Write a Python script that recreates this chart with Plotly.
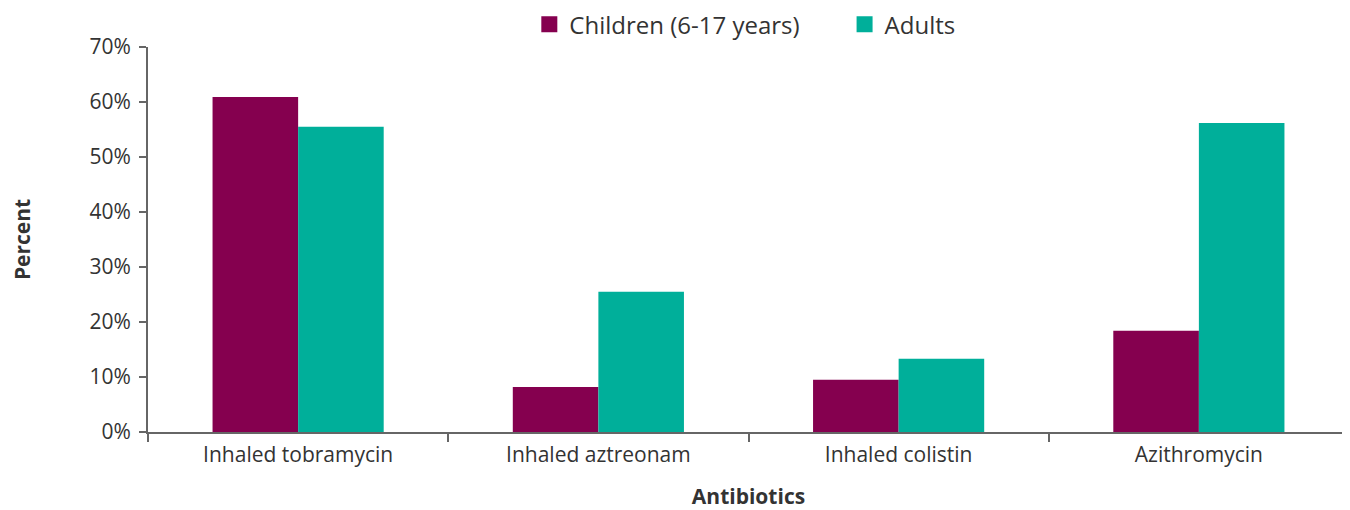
import plotly.graph_objects as go

antibiotics = ['Inhaled tobramycin', 'Inhaled aztreonam', 'Inhaled colistin', 'Azithromycin']
children = [60.9, 8.2, 9.5, 18.4]
adults = [55.5, 25.5, 13.3, 56.2]

series = [('Children (6-17 years)', children, '#85004F', 'legend'),
          ('Adults', adults, '#00AF9A', 'legend2')]

fig = go.Figure()
for name, vals, color, lg in series:
    fig.add_trace(go.Bar(x=antibiotics, y=vals, name=name, showlegend=False,
                         marker=dict(color=color, line=dict(width=0))))
# legend-only entries with bigger square swatches, one legend box each
for name, vals, color, lg in series:
    fig.add_trace(go.Scatter(x=[None], y=[None], mode='markers', name=name, legend=lg,
                             marker=dict(symbol='square', size=20, color=color)))

legend_style = dict(orientation='h', xanchor='left', y=1.058, yanchor='middle',
                    font=dict(size=24), bgcolor='rgba(0,0,0,0)')

# page body has an 8px margin, so the figure is a bit smaller than the window
fig.update_layout(
    width=1342, height=502,
    barmode='group', bargap=0.43, bargroupgap=0,
    plot_bgcolor='white', paper_bgcolor='white',
    font=dict(family='Open Sans', size=21, color='#333333'),
    margin=dict(l=140, r=1, t=39, b=78, autoexpand=False),
    legend=dict(x=0.3175, **legend_style),
    legend2=dict(x=0.58, **legend_style),
    xaxis=dict(
        showline=True, linecolor='#666666', linewidth=2,
        ticks='outside', tickson='boundaries', ticklen=8, tickwidth=2, tickcolor='#666666',
        ticklabelstandoff=3,
        title=dict(text='<b>Antibiotics</b>', font=dict(size=21), standoff=35),
    ),
    yaxis=dict(
        range=[0, 70], dtick=10, ticksuffix='%',
        showgrid=False, zeroline=False,
        showline=True, linecolor='#666666', linewidth=2,
        ticks='outside', ticklen=7, tickwidth=2, tickcolor='#666666',
        ticklabelstandoff=4,
        title=dict(text='<b>Percent</b>', font=dict(size=21), standoff=69),
    ),
)

fig.write_html('out.html')
